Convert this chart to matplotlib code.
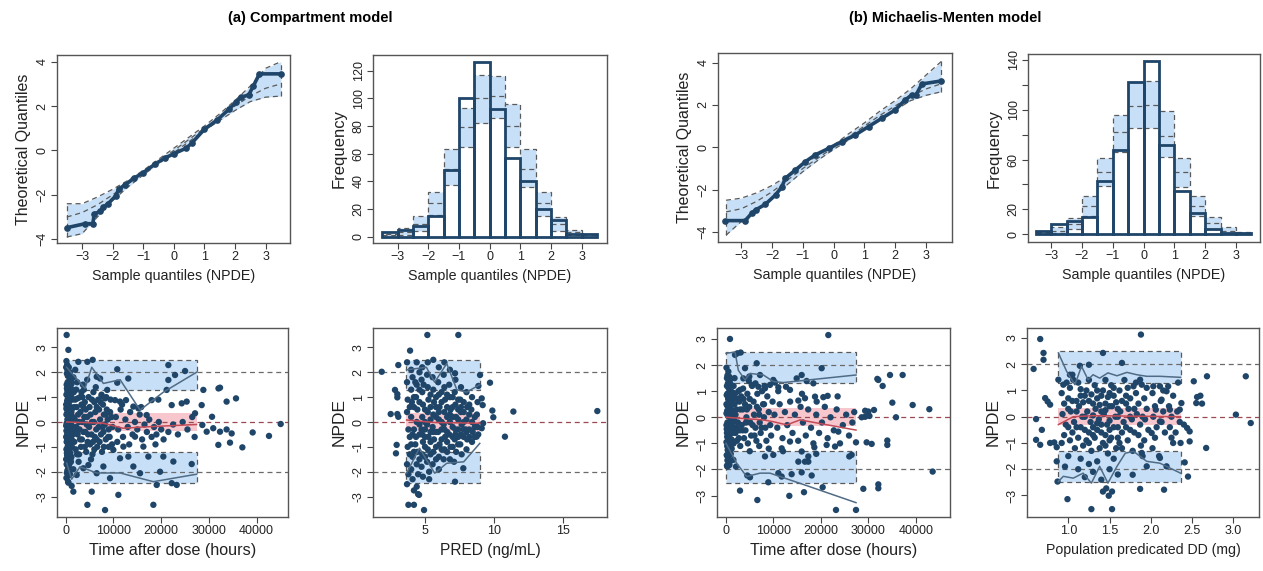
import matplotlib
matplotlib.use("Agg")
import matplotlib.pyplot as plt
from matplotlib.patches import Rectangle
import numpy as np

plt.rcParams['font.family'] = ['Liberation Sans', 'DejaVu Sans']

# ---------------- DATA ----------------
bin_edges = [-3.5, -3.0, -2.5, -2.0, -1.5, -1.0, -0.5, 0.0, 0.5, 1.0, 1.5, 2.0, 2.5, 3.0, 3.5]

# Histogram (a) compartment
hist_a_obs = [3, 5, 8, 15, 48, 100, 126, 92, 57, 40, 20, 12, 2, 2]
hist_a_lo = [0, 1, 4, 16, 37, 65, 82, 86, 65, 36, 15, 4, 1, 0]
hist_a_med = [1, 3, 9, 24, 49, 79, 100, 102, 80, 49, 24, 9, 3, 1]
hist_a_up = [2, 6, 15, 32, 63, 93, 117, 116, 96, 63, 32, 14, 5, 2]

# Histogram (b) Michaelis-Menten
hist_b_obs = [3, 8, 11, 14, 43, 68, 122, 139, 72, 35, 17, 4, 1, 1]
hist_b_lo = [0, 1, 4, 15, 39, 66, 85, 85, 62, 38, 15, 4, 1, 0]
hist_b_med = [1, 3, 8, 23, 50, 82, 103, 104, 79, 50, 23, 9, 3, 1]
hist_b_up = [2, 6, 13, 31, 61, 96, 122, 123, 99, 61, 31, 14, 6, 2]

# QQ prediction bands
qq_band_x = [-3.5, -3.0, -2.5, -2.0, -1.5, -1.0, -0.5, 0.0, 0.5, 1.0, 1.5, 2.0, 2.5, 3.0, 3.5]
qq_a_lo = [-3.9, -3.75, -3.0, -2.25, -1.65, -1.1, -0.6, -0.1, 0.4, 0.9, 1.35, 1.8, 2.2, 2.4, 2.45]
qq_a_med = [-3.0, -2.8, -2.45, -2.0, -1.5, -1.0, -0.5, 0.0, 0.5, 1.0, 1.5, 2.0, 2.45, 2.8, 3.0]
qq_a_up = [-2.4, -2.4, -2.1, -1.75, -1.35, -0.9, -0.4, 0.1, 0.6, 1.1, 1.65, 2.25, 2.9, 3.7, 4.0]
qq_b_lo = [-4.15, -3.5, -2.95, -2.4, -1.75, -1.15, -0.6, -0.1, 0.35, 0.85, 1.3, 1.75, 2.2, 2.45, 2.62]
qq_b_med = [-3.05, -2.9, -2.55, -2.1, -1.55, -1.0, -0.5, 0.0, 0.5, 1.0, 1.5, 1.95, 2.4, 2.75, 3.0]
qq_b_up = [-2.5, -2.4, -2.15, -1.8, -1.35, -0.85, -0.35, 0.1, 0.65, 1.15, 1.7, 2.2, 2.75, 3.4, 4.05]

# QQ observed curves (sample quantile, theoretical quantile)
qq_a_sample = [-3.5, -2.9, -2.65, -2.6, -2.4, -2.3, -2.15, -1.9, -1.8, -1.6, -1.3, -1.0, -0.6, -0.3,
               0.0, 0.4, 0.6, 1.0, 1.4, 1.8, 2.05, 2.2, 2.45, 2.6, 2.8, 3.5]
qq_a_theo = [-3.48, -3.3, -3.3, -2.85, -2.75, -2.55, -2.4, -2.05, -1.75, -1.55, -1.25, -1.0, -0.6, -0.35,
             -0.15, 0.1, 0.35, 0.95, 1.35, 1.85, 2.2, 2.4, 2.5, 2.9, 3.45, 3.45]
qq_b_sample = [-3.52, -2.87, -2.67, -2.54, -2.22, -1.89, -1.68, -1.57, -1.24, -0.92, -0.6, -0.16, 0.27,
               0.7, 1.14, 1.57, 2.0, 2.33, 2.54, 2.68, 2.87, 3.5]
qq_b_theo = [-3.46, -3.46, -3.12, -2.96, -2.69, -2.25, -1.86, -1.46, -1.07, -0.68, -0.36, -0.05, 0.27,
             0.58, 0.98, 1.37, 1.76, 2.24, 2.47, 2.47, 2.99, 3.13]

# Scatter (a): NPDE vs time after dose (hours)
scat_a_time = [
    (200, 3.5), (560, 2.9), (2650, 2.42), (4540, 2.42), (5650, 2.5), (6500, 1.82), (7200, 1.75),
    (10800, 2.12), (13100, 1.75), (10800, 1.58), (8700, 1.29), (7540, 1.05), (8240, 0.95), (10330, 0.88),
    (11380, 0.82), (12630, 0.88), (14170, 0.62), (15220, 0.55), (16960, 0.28), (18000, 0.88), (19400, 0.9),
    (21500, 2.29), (21500, 1.69), (22900, 1.89), (25000, 2.05), (21150, 1.29), (22200, 0.68), (24300, 0.75),
    (25340, 0.82), (27090, 0.35), (28830, 1.29), (28480, 0.68), (30650, 0.21), (32000, 1.35), (32320, 1.38),
    (33700, 0.82), (35670, 0.95), (28620, -0.12), (29530, -0.39), (30900, -0.25), (32320, -0.39), (33700, -0.3),
    (34760, -0.46), (31970, -0.92), (34410, -0.83), (37000, -1.02), (39160, -0.42), (42580, -0.56),
    (45030, -0.08), (22550, -1.59), (20450, -1.39), (19760, -2.0), (19060, -2.53), (18360, -3.33),
    (22200, -2.46), (23250, -2.53), (26390, -1.69), (15570, -2.06), (14170, -1.79), (9280, -2.26),
    (7890, -1.79), (6490, -2.06), (5450, -2.8), (4540, -3.33), (8240, -3.54), (11030, -2.93), (1600, -2.8),
    (1250, -2.57), (560, -2.44), (2300, -2.13), (3700, -1.86), (4750, -1.73), (14520, -0.59), (16270, -0.99),
    (17310, -1.39), (13120, -1.39), (11380, -1.46), (9980, -1.12), (12080, -0.99),
    (150, 2.45), (300, 2.3), (500, 2.0), (250, 1.95), (700, 1.9), (900, 2.0), (1100, 1.7), (400, 1.6),
    (200, 1.5), (600, 1.45), (1000, 1.4), (1300, 1.3), (350, 1.25), (800, 1.2), (150, 1.1), (550, 1.05),
    (1200, 1.0), (900, 0.9), (300, 0.85), (700, 0.8), (100, 0.7), (450, 0.65), (1050, 0.6), (1400, 0.55),
    (250, 0.5), (650, 0.45), (850, 0.35), (150, 0.3), (500, 0.25), (1150, 0.2), (350, 0.1), (750, 0.05),
    (1000, 0.0), (200, -0.05), (600, -0.1), (1300, -0.15), (400, -0.2), (900, -0.3), (150, -0.35),
    (700, -0.4), (1100, -0.45), (300, -0.5), (500, -0.6), (850, -0.65), (1250, -0.7), (200, -0.8),
    (650, -0.85), (1000, -0.9), (400, -1.0), (750, -1.05), (150, -1.1), (550, -1.2), (950, -1.25),
    (300, -1.35), (700, -1.45), (1200, -1.4), (450, -1.55), (200, -1.7), (600, -1.8), (350, -1.95),
    (900, -2.1), (150, -2.25), (500, -2.4), (1100, -1.6), (800, -1.9),
    (100, 2.2), (350, 2.1), (650, 2.2), (800, 1.65), (450, 1.85), (1250, 1.55), (250, 1.35), (700, 1.25),
    (1000, 1.1), (450, 0.95), (150, 0.55), (600, 0.6), (900, 0.55), (1200, 0.4), (350, 0.35), (700, 0.15),
    (100, -0.15), (500, -0.25), (800, -0.15), (1150, -0.25), (300, -0.7), (750, -0.6), (1000, -0.6),
    (100, -0.6), (450, -0.85), (850, -1.1), (250, -1.25), (550, -1.4), (1000, -1.5), (100, -1.5),
    (400, -1.75), (750, -1.7), (250, -2.05), (650, -2.15), (1300, -1.0), (1400, 0.9), (1500, -0.5),
    (1500, 0.2), (1800, 0.6), (1900, -0.4),
    (1700, 1.2), (2000, 0.9), (2300, 0.6), (2600, 0.3), (1900, 0.1), (2200, -0.2), (2500, -0.5),
    (1800, -0.8), (2100, -1.1), (2800, -1.3), (3000, 1.0), (3300, 0.7), (3100, 0.4), (3500, 0.0),
    (2900, -0.3), (3400, -0.7), (3200, -1.0), (3800, 1.3), (4000, 0.8), (4200, 0.5), (3900, 0.2),
    (4400, -0.1), (4100, -0.4), (4600, -0.8), (4300, -1.2), (4800, 1.0), (5000, 0.6), (5200, 0.3),
    (4900, -0.2), (5400, -0.5), (5100, -0.9), (5600, -1.3), (5800, 1.2), (6000, 0.8), (6200, 0.4),
    (5900, 0.0), (6400, -0.3), (6100, -0.6), (6600, -1.0), (6800, 0.9), (7000, 0.5), (7200, 0.1),
    (6900, -0.2), (7400, -0.5), (7100, -0.8), (7600, -1.2), (7800, 0.7), (8000, 0.3), (8200, -0.1),
    (7900, -0.4), (8400, -0.7), (8600, 0.5), (8800, 0.1), (9000, -0.3), (9200, -0.6), (9400, 0.9),
    (9600, 0.2), (9800, -0.2), (2400, 1.6), (3600, 1.5), (2700, -1.6), (4500, 1.7), (5300, -1.5),
    (6300, 1.4), (1600, 1.8), (1600, -1.9), (2000, 2.1), (8500, 1.0), (9000, -1.0), (7500, 1.1),
    (2500, 0.95), (2800, 0.0), (3000, -0.7), (3300, 1.2), (3700, -0.4), (3700, 0.6), (4500, 0.2),
    (4700, -0.5), (5500, 0.9), (5500, 0.0), (5700, -0.8), (6500, 0.6), (6500, -0.7), (7300, 0.8),
    (7700, -0.2), (8400, 0.3), (8900, -0.6), (9300, 0.4), (2200, 1.3), (2400, -1.3), (4000, -1.0),
    (6000, -1.1), (8000, -1.0), (3500, 1.0), (9700, -0.9),
    (10500, 0.2), (11000, -0.3), (11500, 0.5), (12000, -0.6), (12500, 0.1), (13000, -0.2), (13500, 0.4),
    (14000, -0.5), (14500, 0.0), (15000, -0.3), (15500, 0.3), (16000, -0.7), (16500, -0.1), (17000, -0.4),
    (17500, 0.1), (18000, -0.6), (18500, -0.2), (19000, -0.5), (19500, 0.0), (20000, -0.3), (10800, -0.8),
    (13300, -0.9), (15800, 0.6), (18800, -0.9), (11800, 0.7), (20500, -0.7), (21500, -0.4), (22500, -0.1),
    (23500, -0.5), (24500, 0.0), (25500, -0.3), (26500, 0.2), (27000, -0.6),
]

# Scatter (a): NPDE vs PRED (ng/mL)
scat_a_pred = [
    (1.87, 2.02), (2.52, 0.32), (2.83, 1.29), (3.0, 1.12), (3.0, 0.99), (3.0, 0.32), (3.07, 0.21),
    (2.95, -0.92), (2.9, -1.26), (3.07, 2.29), (3.92, 2.87), (5.17, 3.5), (7.41, 3.5), (3.8, -3.33),
    (4.2, -3.33), (4.93, -3.54), (4.57, -2.93), (7.17, -2.4), (7.77, -1.86), (9.7, 1.58), (9.87, 0.46),
    (9.94, 0.19), (10.78, -0.59), (11.39, 0.42), (17.46, 0.44), (7.17, 1.96), (8.86, 1.45), (8.98, 1.89),
    (9.1, 0.95), (9.17, 0.68), (9.2, -0.05), (9.1, -0.25), (8.73, -0.59),
    (3.7, 2.4), (3.7, 1.6), (3.75, 0.9), (3.7, 0.4), (3.8, -0.3), (3.75, -1.0), (3.7, -1.7), (3.8, -2.1),
    (3.7, -2.5), (4.0, 2.1), (4.1, 1.8), (4.0, 1.3), (4.05, 0.8), (4.0, 0.2), (4.1, -0.5), (4.0, -0.9),
    (4.1, -1.4), (4.0, -1.9), (4.1, -2.3), (4.2, -2.75), (4.4, -2.6), (4.5, -2.9), (4.4, 2.4), (4.4, 1.5),
    (4.35, 1.0), (4.45, 0.5), (4.4, 0.0), (4.35, -0.6), (4.45, -1.2), (4.4, -1.7), (4.5, -2.1), (4.8, 2.2),
    (4.75, 1.7), (4.8, 1.2), (4.85, 0.7), (4.8, 0.2), (4.75, -0.3), (4.85, -0.8), (4.8, -1.3), (4.75, -1.8),
    (4.85, -2.2), (5.2, 2.4), (5.15, 1.9), (5.2, 1.4), (5.25, 0.9), (5.2, 0.4), (5.15, -0.1), (5.25, -0.6),
    (5.2, -1.1), (5.15, -1.6), (5.3, -2.0), (5.3, -2.3), (5.6, 2.5), (5.55, 1.8), (5.6, 1.3), (5.65, 0.8),
    (5.6, 0.3), (5.55, -0.2), (5.65, -0.7), (5.6, -1.2), (5.55, -1.7), (6.0, 2.2), (5.95, 1.6), (6.0, 1.1),
    (6.05, 0.6), (6.0, 0.1), (5.95, -0.4), (6.05, -0.9), (6.0, -1.4), (6.0, -1.9), (6.4, 2.4), (6.35, 1.9),
    (6.4, 1.4), (6.45, 0.9), (6.4, 0.4), (6.35, -0.1), (6.45, -0.6), (6.4, -1.1), (6.35, -1.5), (6.8, 2.1),
    (6.75, 1.5), (6.8, 1.0), (6.85, 0.5), (6.8, 0.0), (6.75, -0.5), (6.85, -1.0), (6.8, -1.5), (7.2, 1.7),
    (7.15, 1.2), (7.2, 0.7), (7.25, 0.2), (7.2, -0.3), (7.15, -0.7), (7.25, -1.2), (7.1, -1.6), (7.6, 1.4),
    (7.55, 0.9), (7.6, 0.4), (7.65, -0.1), (7.6, -0.5), (7.55, -0.9), (7.65, -1.3), (8.0, 1.2), (8.05, 0.6),
    (8.0, 0.1), (7.95, -0.3), (8.05, -0.7), (8.0, -1.1), (8.4, 1.0), (8.35, 0.5), (8.4, 0.0), (8.45, -0.4),
    (8.4, -0.8), (8.8, 0.8), (8.75, 0.3), (8.8, -0.2), (8.85, -0.5), (4.2, 0.6), (4.6, -0.1), (5.0, 0.5),
    (5.4, -0.4), (5.8, 0.6), (6.2, -0.7), (6.6, 0.2), (7.0, -0.2), (7.4, 0.5), (7.8, -0.6), (4.3, -0.9),
    (5.0, -1.0), (5.8, -1.0), (6.6, -1.2), (7.4, -0.9), (4.6, 1.3), (5.4, 1.1), (6.2, 1.2), (7.0, 1.0),
    (7.8, 0.8), (8.2, -0.3), (8.6, -0.6), (6.6, -0.4), (7.0, -0.6), (7.4, -0.3), (5.0, -0.3), (4.2, -0.3),
    (8.2, 0.3),
    (4.2, 1.0), (4.3, 1.6), (4.6, 0.8), (4.6, -0.5), (4.6, -1.5), (4.9, 1.5), (5.0, 0.0), (5.0, -0.6),
    (5.0, -1.4), (5.4, 0.6), (5.4, 0.1), (5.4, -0.8), (5.4, -1.3), (5.8, 1.0), (5.8, 0.2), (5.8, -0.4),
    (5.8, -1.5), (6.2, 0.8), (6.2, 0.0), (6.2, -0.3), (6.2, -1.1), (6.6, 1.1), (6.6, 0.6), (6.6, -0.8),
    (7.0, 0.6), (7.0, 0.2), (7.0, -1.0), (7.4, 0.9), (7.4, 0.1), (7.4, -0.6), (7.8, 0.4), (7.8, 0.0),
    (7.8, -0.3), (8.2, 0.7), (8.2, -0.6), (8.6, 0.2), (8.6, -0.2), (4.2, -1.2), (4.8, -0.5), (5.6, -0.4),
    (6.0, 0.4), (6.4, -0.3), (6.8, 0.3), (7.2, -0.5), (7.6, 0.6), (8.0, -0.4), (3.9, 0.6), (3.9, -0.6),
    (3.9, -1.3), (4.6, 2.0),
]

# Scatter (b): NPDE vs time after dose (hours)
scat_b_time = [
    (840, 3.0), (21540, 3.15), (6460, 2.07), (20140, 1.88), (15930, 1.62), (31860, 1.47), (32070, 1.43),
    (32980, 1.2), (34530, 1.62), (37190, 1.62), (35020, 0.56), (35790, 0.0), (39300, 0.47), (42810, 0.31),
    (31160, 0.28), (29960, 0.22), (29300, 0.25), (28560, 0.0), (29300, 0.02), (30200, 0.05), (29610, -0.96),
    (30670, -1.02), (33960, -0.89), (33960, -1.06), (28910, -2.74), (32070, -2.57), (32070, -2.72),
    (43510, -2.08), (27370, -0.96), (25960, -1.5), (26450, -1.44), (23650, -0.55), (21190, -1.06),
    (22950, -1.12), (18600, -1.15), (17330, -1.5), (16630, -1.7), (15230, -1.7), (15930, -2.11),
    (18040, -2.23), (20350, -2.68), (23160, -3.55), (27370, -3.55), (16420, -2.87), (13330, -3.01),
    (13820, -2.18), (8910, -2.49), (6600, -3.17), (2950, -2.81), (11020, -2.14), (11720, -2.27),
    (5050, -2.3), (4490, -2.23), (2100, -1.89), (700, -1.83), (280, -1.89), (1550, -1.63), (8210, -1.5),
    (9960, -1.44), (11720, -1.19), (13470, -0.93), (15930, -1.31), (17330, -1.7), (20490, 0.77),
    (21400, 0.82), (19090, 0.6), (16630, 0.73), (15230, 0.64), (13470, 1.05), (12630, 1.17), (11020, 1.15),
    (10320, 1.33), (9260, 1.24), (8210, 1.11), (6810, 1.17), (5410, 1.24), (4910, 1.56), (3650, 1.49),
    (2950, 1.05), (1900, 2.39), (2390, 2.45), (3090, 2.48), (4000, 1.88), (7160, 1.62), (9960, 1.43),
    (14880, 1.49), (16980, 1.39), (18390, 1.3), (18740, 0.79),
    (100, 1.9), (300, 1.6), (500, 1.75), (800, 1.4), (200, 1.2), (600, 1.1), (1000, 1.25), (1400, 0.95),
    (150, 0.85), (450, 0.7), (900, 0.8), (1300, 0.6), (1800, 0.5), (250, 0.45), (700, 0.35), (1100, 0.3),
    (1600, 0.2), (100, 0.15), (400, 0.05), (850, 0.0), (1250, -0.05), (1700, -0.1), (300, -0.2),
    (650, -0.25), (1050, -0.3), (1500, -0.35), (150, -0.45), (550, -0.5), (950, -0.55), (1350, -0.6),
    (250, -0.75), (750, -0.8), (1150, -0.85), (100, -0.95), (500, -1.05), (900, -1.1), (350, -1.25),
    (700, -1.3), (150, -1.45), (550, -1.5), (300, -1.65), (800, -1.7), (200, -1.85), (1200, -1.2),
    (1900, 0.9), (2000, -0.6), (1800, 1.5), (1600, -1.0), (100, 0.5), (100, -0.3), (400, 0.9), (600, -0.7),
    (1000, 0.55), (1400, -0.2), (2200, 0.3), (2500, -0.2), (2800, 0.6), (2300, -0.9), (2600, 1.0),
    (2900, -0.5),
    (200, 1.5), (400, 1.3), (700, 1.55), (1000, 1.0), (1200, 0.8), (300, 0.9), (600, 0.6), (900, 0.4),
    (1200, 0.1), (250, 0.25), (550, 0.2), (800, -0.4), (1100, -0.5), (1300, -0.9), (200, -0.6), (450, -0.9),
    (700, -1.0), (1000, -1.4), (250, -1.1), (500, -1.3), (650, -1.8), (350, -1.5), (1500, 0.7), (1600, 1.2),
    (1800, -0.5), (2000, 0.1), (2200, -0.4), (2400, 0.7), (2700, -0.8), (3000, 0.3), (3500, -0.5),
    (3700, 0.7), (4200, -0.2), (4400, 0.3), (5000, 0.7), (5600, -0.3), (6000, -0.7), (6500, 0.4),
    (7000, 0.1), (7500, -0.4), (8000, 0.5),
    (3200, 0.8), (3500, 0.3), (3300, -0.3), (3800, -0.8), (3600, 1.1), (4000, 0.5), (4300, 0.0),
    (4100, -0.5), (4600, -1.0), (4500, 0.9), (4900, 0.4), (5100, -0.2), (5300, -0.7), (5500, 1.2),
    (5800, 0.6), (5900, 0.1), (6200, -0.4), (6400, -0.9), (6600, 0.9), (6900, 0.3), (7100, -0.2),
    (7300, -0.6), (7600, 1.0), (7800, 0.5), (8000, 0.0), (8300, -0.4), (8500, -0.9), (8700, 0.8),
    (9000, 0.2), (9300, -0.3), (9500, -0.7), (9800, 0.6), (3000, -1.1), (5000, -1.3), (7000, -1.1),
    (9000, -1.2), (4800, 1.4), (6200, 1.3), (8100, 1.2),
    (10200, 0.1), (10800, -0.4), (11300, 0.5), (11900, -0.8), (12400, 0.2), (12900, -0.3), (13500, 0.6),
    (14000, -0.6), (14500, 0.1), (15200, -0.9), (15700, 0.4), (16200, -0.2), (16800, -0.7), (17300, 0.3),
    (17900, -0.4), (18400, -1.0), (19000, 0.1), (19600, -0.6), (20200, -0.2), (20800, 0.4), (21400, -0.8),
    (22000, 0.0), (22700, -0.5), (23300, 0.3), (24000, -1.0), (24600, -0.3), (25300, 0.1), (25900, -0.7),
    (26600, -0.2), (27000, 0.2), (11000, 1.0), (12000, -1.3), (16000, 0.9), (19000, -1.4), (23500, 0.8),
]

# Scatter (b): NPDE vs population predicted DD (mg)
scat_b_dd = [
    (0.66, 2.96), (1.88, 3.13), (0.58, 1.82), (0.70, 2.43), (0.70, 2.17), (0.72, 0.71), (0.75, 0.58),
    (0.78, 0.46), (0.61, -0.09), (0.68, -0.5), (0.61, -0.88), (0.66, -1.07), (0.78, -1.0), (0.83, -0.98),
    (0.86, -1.16), (0.86, -1.7), (0.87, -2.47), (0.99, -3.14), (1.28, -3.52), (1.53, -3.52), (1.42, -2.85),
    (1.49, -3.01), (1.46, -2.73), (1.53, -2.85), (1.87, -2.75), (2.16, -2.78), (1.78, -2.21), (1.95, -1.89),
    (2.11, -1.57), (1.89, -1.38), (2.19, -1.89), (2.27, -1.0), (2.36, -1.0), (2.41, -1.74), (2.45, -2.28),
    (2.67, -1.19), (2.47, -0.94), (2.47, -0.56), (2.44, -0.43), (2.40, -0.3), (2.35, 0.27), (2.37, 0.52),
    (2.52, 1.35), (2.56, 0.75), (2.6, 0.8), (2.62, 0.5), (2.68, 1.54), (2.55, 0.52), (3.03, 0.08),
    (3.15, 1.54), (3.21, -0.24), (2.11, 1.16), (2.03, 1.16), (1.89, 1.22), (1.79, 1.16), (2.21, 1.16),
    (2.13, 0.65), (2.06, 0.27), (2.23, 0.27), (2.19, 0.97), (2.01, -0.62), (2.11, -0.18), (1.87, 1.41),
    (1.65, 2.05), (1.42, 2.43), (1.25, 1.98), (1.14, 1.94), (1.02, 1.6), (1.06, 1.41), (0.88, 1.41),
    (0.94, 1.22),
    (0.92, 0.9), (0.95, 0.5), (0.93, 0.1), (0.97, -0.3), (0.95, -0.7), (0.92, -1.0), (0.98, 1.3),
    (1.0, -1.5), (0.96, -1.9), (1.02, 1.1), (1.05, 0.6), (1.03, 0.2), (1.07, -0.2), (1.05, -0.6),
    (1.02, -0.9), (1.08, -1.2), (1.05, 1.6), (1.12, 1.3), (1.15, 0.8), (1.13, 0.4), (1.17, 0.0),
    (1.15, -0.4), (1.12, -0.8), (1.18, -1.1), (1.15, -1.6), (1.12, -2.0), (1.22, 1.0), (1.25, 0.6),
    (1.23, 0.2), (1.27, -0.2), (1.25, -0.6), (1.22, -0.9), (1.28, -1.3), (1.25, 1.4), (1.25, -1.8),
    (1.2, -2.3), (1.32, 1.2), (1.35, 0.7), (1.33, 0.3), (1.37, -0.1), (1.35, -0.5), (1.32, -0.8),
    (1.38, -1.2), (1.35, -1.7), (1.3, -2.1), (1.42, 1.0), (1.45, 0.5), (1.43, 0.1), (1.47, -0.3),
    (1.45, -0.7), (1.42, -1.0), (1.48, -1.4), (1.45, 1.4), (1.4, -2.4), (1.52, 1.2), (1.55, 0.8),
    (1.53, 0.4), (1.57, 0.0), (1.55, -0.4), (1.52, -0.8), (1.58, -1.2), (1.55, -1.6), (1.5, -2.0),
    (1.62, 1.0), (1.65, 0.6), (1.63, 0.2), (1.67, -0.2), (1.65, -0.6), (1.62, -1.0), (1.68, 1.4),
    (1.6, -2.2), (1.72, 1.1), (1.75, 0.7), (1.73, 0.3), (1.77, -0.1), (1.75, -0.5), (1.72, -0.9),
    (1.78, -1.3), (1.82, 0.9), (1.85, 0.5), (1.83, 0.1), (1.87, -0.3), (1.85, -0.7), (1.82, 1.3),
    (1.88, -1.1), (1.92, 0.7), (1.95, 0.3), (1.93, -0.1), (1.97, -0.5), (1.95, 1.1), (1.92, -0.9),
    (1.9, -1.5), (2.02, 0.9), (2.05, 0.4), (2.03, 0.0), (2.07, -0.4), (2.05, -0.8), (2.02, -1.2),
    (2.12, 0.6), (2.15, 0.2), (2.13, -0.2), (2.17, -0.6), (2.15, 1.0), (2.1, -1.5), (2.22, 0.4),
    (2.25, 0.0), (2.23, -0.4), (2.27, 0.8), (2.25, -0.8), (2.32, 0.2), (2.35, -0.2), (2.3, -0.6),
    (2.33, 1.3), (1.18, 0.55), (1.28, 0.85), (1.38, 0.45), (1.48, 0.75), (1.58, 0.55), (1.2, -0.5),
    (1.3, -0.4), (1.4, -0.6), (1.5, -0.5), (1.6, -0.8), (1.1, 0.2), (1.4, 0.2), (1.6, 0.3), (1.7, 0.5),
    (1.0, 0.3), (1.3, 0.05), (1.5, -0.15),
    (1.1, 0.6), (1.1, -0.4), (1.2, 0.8), (1.2, 0.0), (1.3, 0.5), (1.3, -0.7), (1.4, 0.8), (1.4, -0.3),
    (1.5, 0.4), (1.5, 0.9), (1.5, -0.9), (1.6, 0.0), (1.6, -0.4), (1.7, 0.8), (1.7, -0.4), (1.8, 0.3),
    (1.8, -0.6), (1.9, 0.0), (1.0, -0.4), (1.0, 0.7), (1.25, -1.0), (1.45, -1.1), (1.65, -1.2),
    (1.35, 1.0), (1.55, 1.1), (1.75, 0.0), (1.15, 1.05), (1.45, 0.25), (1.35, -0.25),
]

# Prediction-interval boxes for scatter panels: x-range, upper/median/lower y-ranges
box_a_time_x = [200, 27500]
box_a_pred_x = [3.6, 9.0]
box_b_time_x = [0, 27370]
box_b_dd_x = [0.88, 2.36]
box_upper_a = [1.27, 2.48]
box_lower_a = [-2.45, -1.2]
box_mid_a = [-0.35, 0.35]
box_upper_b = [1.3, 2.5]
box_lower_b = [-2.5, -1.31]
box_mid_b = [-0.33, 0.34]

# Observed percentile lines (x, value)
line_a_time_up = [(200, 2.2), (4050, 1.35), (5450, 2.2), (7900, 1.55), (11400, 1.7), (15570, 0.48),
                  (20450, 1.2), (27400, 2.0)]
line_a_time_med = [(200, 0.0), (7900, -0.05), (12000, -0.25), (16300, -0.2), (27400, -0.1)]
line_a_time_lo = [(200, -1.65), (1250, -2.3), (3000, -1.8), (6490, -2.05), (11400, -2.05),
                  (18360, -2.4), (27400, -2.1)]
line_a_pred_up = [(3.67, 2.1), (5.1, 2.2), (5.7, 1.6), (6.57, 2.35), (7.3, 1.3), (8.0, 1.2), (8.96, 1.5)]
line_a_pred_med = [(3.67, 0.08), (5.7, -0.02), (8.96, -0.05)]
line_a_pred_lo = [(3.67, -2.06), (4.6, -1.05), (5.7, -2.06), (6.57, -1.66), (7.8, -1.6), (8.96, -0.86)]
line_b_time_up = [(0, 2.45), (1900, 2.5), (2600, 1.8), (4000, 1.43), (5050, 1.68), (7860, 1.62),
                  (9960, 1.37), (12070, 1.33), (27370, 1.62)]
line_b_time_med = [(0, 0.0), (7860, -0.1), (9960, -0.17), (12800, -0.29), (15600, -0.1), (27370, -0.49)]
line_b_time_lo = [(0, -1.0), (2250, -1.76), (4350, -2.27), (7160, -2.14), (9260, -2.14), (15580, -2.53),
                  (27370, -3.27)]
line_b_dd_up = [(0.88, 2.43), (0.98, 1.73), (1.08, 1.22), (1.16, 1.92), (1.24, 1.41), (1.30, 1.6),
                (1.38, 1.47), (1.48, 1.67), (1.59, 1.56), (1.71, 1.69), (1.83, 1.6), (1.95, 1.54),
                (2.11, 1.54), (2.36, 1.5)]
line_b_dd_med = [(0.88, -0.3), (1.06, 0.0), (1.3, 0.04), (2.36, 0.0)]
line_b_dd_lo = [(0.88, -2.47), (0.94, -2.27), (1.06, -2.34), (1.18, -2.15), (1.28, -2.53), (1.38, -1.89),
                (1.48, -2.53), (1.59, -1.89), (1.69, -1.39), (1.79, -1.32), (1.95, -1.7), (2.11, -1.77),
                (2.36, -2.15)]

# ---------------- STYLE ----------------
NAVY = '#1f4569'
BAND = '#c8e0f7'
PINK = '#f8c6cd'
DASH = '#5a5a5a'
OBSLINE = '#4f6b85'
MEDLINE = '#c24b57'
REFRED = '#9a4a50'
TICKFS = 9
W, H = 1263, 571

fig = plt.figure(figsize=(W / 100, H / 100), dpi=100)


def add_axes(l, r, t, b):
    return fig.add_axes([l / W, 1 - b / H, (r - l) / W, (b - t) / H])


def style(ax, xlabel, ylabel, xfs, yfs):
    for s in ax.spines.values():
        s.set_color('#555555')
        s.set_linewidth(1.0)
    ax.tick_params(direction='out', length=4, width=0.8, color='#444444', labelsize=TICKFS,
                   labelcolor='#222222', pad=2)
    ax.tick_params(axis='y', labelrotation=90)
    ax.set_xlabel(xlabel, fontsize=xfs, color='#222222', labelpad=4)
    ax.set_ylabel(ylabel, fontsize=yfs, color='#222222', labelpad=4)


def qq_panel(ax, lo, med, up, sx, sy, xlim, ylim):
    ax.fill_between(qq_band_x, lo, up, color=BAND, lw=0, zorder=1)
    for arr in (lo, med, up):
        ax.plot(qq_band_x, arr, ls=(0, (4, 3)), color=DASH, lw=0.9, zorder=2)
    ax.vlines([qq_band_x[0], qq_band_x[-1]], [lo[0], lo[-1]], [up[0], up[-1]],
              linestyles=(0, (4, 3)), colors=DASH, lw=0.9, zorder=2)
    ax.plot(sx, sy, '-', color=NAVY, lw=2.6, zorder=3, solid_capstyle='round')
    ax.plot(sx, sy, 'o', color=NAVY, ms=3.8, zorder=4)
    ax.set_xlim(*xlim)
    ax.set_ylim(*ylim)
    ax.set_xticks([-3, -2, -1, 0, 1, 2, 3])
    ax.set_yticks([-4, -2, 0, 2, 4])


def hist_panel(ax, obs, lo, med, up, xlim, ylim, yticks, ylabels):
    left = np.array(bin_edges[:-1])
    right = np.array(bin_edges[1:])
    centers = (left + right) / 2
    widths = right - left
    lo = np.array(lo)
    up = np.array(up)
    ax.bar(centers, up - lo, bottom=lo, width=widths, color=BAND, edgecolor=DASH,
           linestyle=(0, (4, 3)), lw=0.9, zorder=1)
    ax.hlines(med, left, right, linestyles=(0, (4, 3)), colors=DASH, lw=0.9, zorder=2)
    ax.bar(centers, obs, width=widths, fill=False, edgecolor=NAVY, lw=2.0, zorder=3)
    ax.set_xlim(*xlim)
    ax.set_ylim(*ylim)
    ax.set_xticks([-3, -2, -1, 0, 1, 2, 3])
    ax.set_yticks(yticks)
    ax.set_yticklabels(ylabels)


def box(ax, xr, yr, color):
    ax.add_patch(Rectangle((xr[0], yr[0]), xr[1] - xr[0], yr[1] - yr[0], facecolor=color,
                           edgecolor=DASH, linestyle=(0, (4, 3)), lw=0.9, zorder=1))


def scatter_panel(ax, pts, bx, up_r, mid_r, lo_r, lu, lm, ll, xlim, ylim):
    box(ax, bx, up_r, BAND)
    box(ax, bx, lo_r, BAND)
    ax.add_patch(Rectangle((bx[0], mid_r[0]), bx[1] - bx[0], mid_r[1] - mid_r[0], facecolor=PINK,
                           edgecolor='none', zorder=1))
    ax.axhline(2, ls=(0, (4, 3)), color='#6a6a6a', lw=0.9, zorder=1.5)
    ax.axhline(-2, ls=(0, (4, 3)), color='#6a6a6a', lw=0.9, zorder=1.5)
    ax.axhline(0, ls=(0, (4, 3)), color=REFRED, lw=0.9, zorder=1.5)
    x, y = zip(*pts)
    ax.scatter(x, y, s=21, color=NAVY, edgecolors='none', zorder=3)
    for ln, c in ((lu, OBSLINE), (ll, OBSLINE), (lm, MEDLINE)):
        lx, ly = zip(*ln)
        ax.plot(lx, ly, color=c, lw=1.1, zorder=4)
    ax.set_xlim(*xlim)
    ax.set_ylim(*ylim)
    ax.set_yticks([-3, -2, -1, 0, 1, 2, 3])


# Panel 1: QQ compartment
ax1 = add_axes(57, 290, 55, 243)
qq_panel(ax1, qq_a_lo, qq_a_med, qq_a_up, qq_a_sample, qq_a_theo, (-3.82, 3.8), (-4.17, 4.3))
style(ax1, 'Sample quantiles (NPDE)', 'Theoretical Quantiles', 10.3, 11.5)

# Panel 2: histogram compartment
ax2 = add_axes(373, 607, 55, 243)
hist_panel(ax2, hist_a_obs, hist_a_lo, hist_a_med, hist_a_up, (-3.8, 3.82), (-4.6, 131.3),
           [0, 20, 40, 60, 80, 100, 120], ['0', '20', '40', '60', '80', '100', '120'])
style(ax2, 'Sample quantiles (NPDE)', 'Frequency', 10.3, 12)

# Panel 3: QQ Michaelis-Menten
ax3 = add_axes(718, 952, 53, 242)
qq_panel(ax3, qq_b_lo, qq_b_med, qq_b_up, qq_b_sample, qq_b_theo, (-3.76, 3.85), (-4.47, 4.45))
style(ax3, 'Sample quantiles (NPDE)', 'Theoretical Quantiles', 10.3, 11.5)

# Panel 4: histogram Michaelis-Menten
ax4 = add_axes(1028, 1260, 54, 242)
hist_panel(ax4, hist_b_obs, hist_b_lo, hist_b_med, hist_b_up, (-3.75, 3.78), (-6.2, 144.8),
           [0, 20, 40, 60, 80, 100, 120, 140], ['0', '20', '', '60', '', '100', '', '140'])
style(ax4, 'Sample quantiles (NPDE)', 'Frequency', 10.3, 12)

ylab_hyphen = ['-3', '-2', '-1', '0', '1', '2', '3']
ylab_minus = ['\u22123', '\u22122', '\u22121', '0', '1', '2', '3']

# Panel 5
ax5 = add_axes(57, 288, 328, 517)
scatter_panel(ax5, scat_a_time, box_a_time_x, box_upper_a, box_mid_a, box_lower_a,
              line_a_time_up, line_a_time_med, line_a_time_lo, (-1822, 46560), (-3.82, 3.78))
ax5.set_xticks([0, 10000, 20000, 30000, 40000])
ax5.set_yticklabels(ylab_hyphen)
style(ax5, 'Time after dose (hours)', 'NPDE', 11.6, 12.5)

# Panel 6
ax6 = add_axes(373, 607, 328, 517)
scatter_panel(ax6, scat_a_pred, box_a_pred_x, box_upper_a, box_mid_a, box_lower_a,
              line_a_pred_up, line_a_pred_med, line_a_pred_lo, (1.24, 18.16), (-3.82, 3.78))
ax6.set_xticks([5, 10, 15])
ax6.set_yticklabels(ylab_hyphen)
style(ax6, 'PRED (ng/mL)', 'NPDE', 11.2, 12.5)

# Panel 7
ax7 = add_axes(717, 950, 328, 517)
scatter_panel(ax7, scat_b_time, box_b_time_x, box_upper_b, box_mid_b, box_lower_b,
              line_b_time_up, line_b_time_med, line_b_time_lo, (-1895, 47160), (-3.82, 3.42))
ax7.set_xticks([0, 10000, 20000, 30000, 40000])
ax7.set_yticklabels(ylab_minus)
style(ax7, 'Time after dose (hours)', 'NPDE', 11.6, 12.5)

# Panel 8
ax8 = add_axes(1027, 1259, 328, 517)
scatter_panel(ax8, scat_b_dd, box_b_dd_x, box_upper_b, box_mid_b, box_lower_b,
              line_b_dd_up, line_b_dd_med, line_b_dd_lo, (0.5, 3.31), (-3.82, 3.38))
ax8.set_xticks([1.0, 1.5, 2.0, 2.5, 3.0])
ax8.set_xticklabels(['1.0', '1.5', '2.0', '2.5', '3.0'])
ax8.set_yticklabels(ylab_minus)
style(ax8, 'Population predicated DD (mg)', 'NPDE', 10.2, 12.5)

for ax in (ax1, ax2, ax3, ax4, ax5, ax6, ax7, ax8):
    for lbl in ax.get_yticklabels():
        lbl.set_va('center')

tfam = ['Liberation Sans Narrow', 'Liberation Sans', 'DejaVu Sans']
fig.text(310 / W, 1 - 18 / H, '(a) Compartment model', ha='center', va='center',
         fontsize=10.5, fontweight='bold', family=tfam)
fig.text(945 / W, 1 - 18 / H, '(b) Michaelis-Menten model', ha='center', va='center',
         fontsize=10.5, fontweight='bold', family=tfam)

fig.savefig('out.png', dpi=100, facecolor='white')
